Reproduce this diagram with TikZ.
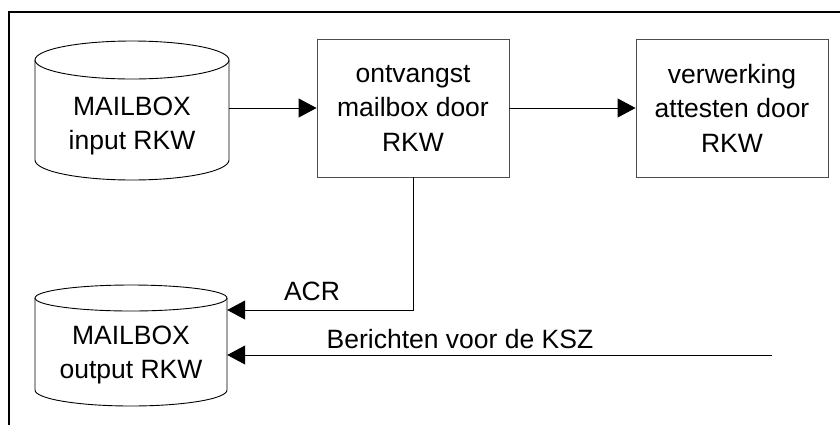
\documentclass[tikz,border=0pt]{standalone}
\usepackage{fontspec}
\setmainfont{Liberation Sans}
\usetikzlibrary{arrows.meta}
\begin{document}
\begin{tikzpicture}[x=1pt,y=1pt,
  txt/.style={align=center,inner sep=0pt,font=\fontsize{26.5}{34.5}\selectfont},
  procbox/.style={draw=black!70,line width=0.9pt,minimum width=192pt,minimum height=138pt,inner sep=0pt},
  store/.style={minimum width=194pt,minimum height=140pt,inner sep=0pt},
  cyl/.style={draw=black,line width=0.9pt},
  arr/.style={draw=black,line width=0.9pt,-{Triangle[length=18pt,width=19pt]}},
  frame/.style={draw=black,line width=2.5pt}]
\useasboundingbox (0,0) rectangle (840,-424);
% outer frame
\draw[frame] (9,-430) -- (9,-12) -- (850,-12);
% input cylinder
\node[store] (inbox) at (132,-110) {};
\draw[cyl] (132,-60) ellipse[x radius=97,y radius=19];
\draw[cyl] (35,-60) -- (35,-160) arc[start angle=180,end angle=360,x radius=97,y radius=20] -- (229,-60);
\node[txt] (inboxtext) at (132,-126) {MAILBOX\\input RKW};
% output cylinder
\node[store,minimum width=192pt,minimum height=122pt] (outbox) at (131,-346) {};
\draw[cyl] (131,-298) ellipse[x radius=96,y radius=13];
\draw[cyl] (35,-298) -- (35,-390) arc[start angle=180,end angle=360,x radius=96,y radius=16] -- (227,-298);
\node[txt] (outboxtext) at (131,-355) {MAILBOX\\output RKW};
% process boxes
\node[procbox,txt] (box1) at (413,-108) {ontvangst\\mailbox door\\RKW};
\node[procbox,txt] (box2) at (732,-108) {verwerking\\attesten door\\RKW};
% connectors
\draw[arr] (inbox.east |- box1.west) -- (box1.west);
\draw[arr] (box1.east) -- (box2.west);
\coordinate (acrin) at (outbox.east |- 0,-310);
\coordinate (kszin) at (outbox.east |- 0,-355);
\coordinate (kszsrc) at (772,-355);
\draw[arr] (box1.south) |- (acrin);
\draw[arr] (kszsrc) -- (kszin);
% labels
\node[txt,anchor=base] (acrlabel) at (312,-300) {ACR};
\node[txt,anchor=base] (kszlabel) at (460,-348) {Berichten voor de KSZ};
\end{tikzpicture}
\end{document}
